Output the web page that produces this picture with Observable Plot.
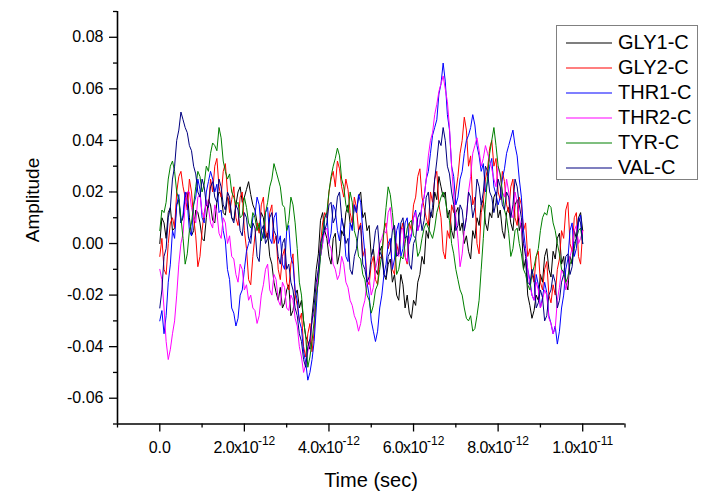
<!DOCTYPE html>
<html><head><meta charset="utf-8">
<script src="https://cdn.jsdelivr.net/npm/d3@7"></script>
<script src="https://cdn.jsdelivr.net/npm/@observablehq/plot@0.6"></script>
<style>
body{margin:0;background:#fff}
#wrap{position:relative;width:716px;height:498px;font-family:"Liberation Sans",Arial,sans-serif}
#legend{position:absolute;left:556px;top:25px;width:142px;height:155px;box-sizing:border-box;border:1px solid #808080;background:#fff;padding-top:4px}
#legend .row{height:25px;line-height:25px;font-size:20px;white-space:nowrap;color:#000;display:flex;align-items:center}
#legend svg{margin-left:9px;margin-right:6px;flex:none}
</style></head>
<body><div id="wrap"><div id="legend"></div></div>
<script>
const seriesNames = ["GLY1-C","GLY2-C","THR1-C","THR2-C","TYR-C","VAL-C"];
const seriesColors = ["#000000","#ff0000","#0000ff","#ff00ff","#008000","#000080"];
const timeStep = 1e-13; // samples at 0, 1e-13, ... 1e-11 s, plus half-step samples

// values at whole steps (101) and at half steps (100)
const GLY1 = [0,.008,.012,.005,.015,.008,.018,.010,.005,.012, .002,.010,.015,.008,.020,.012,.018,.010,.015,.022, .018,.024,.015,.008,.012,.002,-.005,-.015,-.022,-.025, -.018,-.028,-.020,-.025,-.030,-.038,-.028,-.010,.009,.005, -.005,.002,-.008,.005,.012,.008,.015,.018,.010,.005, -.005,-.010,-.003,-.012,-.008,-.015,-.020,-.012,-.025,-.027, -.022,-.015,-.005,.005,.012,.020,.026,.018,.010,.005, .012,.005,0,-.003,.005,.010,.015,.008,.012,.018, .010,.005,.012,.008,.015,.005,-.010,-.020,-.029,-.020, -.012,-.005,-.010,-.003,.002,-.008,-.015,-.005,.005,.010, .005];
const GLY1h = [.010,.002,.014,.006,.017,.010,.020,.003,.013,.008, .001,.017,.009,.016,.019,.011,.016,.009,.020,.016, .021,.019,.013,.005,.010,.004,-.008,-.019,-.017,-.023, -.016,-.026,-.018,-.022,-.036,-.041,-.020,-.004,.012,.002, -.008,.004,-.004,.003,.015,.006,.012,.020,.012,.007, -.002,-.012,-.001,-.014,-.006,-.012,-.022,-.016,-.020,-.029, -.024,-.012,-.008,.002,.010,.017,.022,.020,.013,.002, .014,.008,.003,-.006,.002,.007,.017,.005,.010,.020, .013,.002,.014,.005,.017,.008,-.006,-.024,-.026,-.022, -.015,-.002,-.013,-.006,.004,-.005,-.018,-.008,.002,.012];
const GLY2 = [-.005,-.010,0,.010,.020,.028,.018,.025,.010,-.009, .005,.015,.025,.030,.022,.028,.020,.017,.010,.018, .005,-.014,-.005,.008,.015,.005,.012,0,-.010,-.005, -.015,-.008,-.020,-.030,-.040,-.035,-.042,-.020,0,.012, .020,.028,.032,.022,.025,.012,.018,.005,-.005,-.014, -.008,-.014,-.005,.005,-.002,-.010,0,.005,-.005,.008, .015,.026,.018,.010,.020,.025,.015,-.003,.005,.015, .020,.035,.049,.030,.015,0,.012,.025,.037,.030, .020,.028,.015,.022,.010,.018,.005,-.005,-.012,-.005, -.015,-.010,-.020,-.016,-.010,.005,.013,0,.010,-.005, .005];
const GLY2h = [.002,-.012,.008,.006,.026,.022,.013,.020,.003,-.005, .012,.014,.020,.033,.018,.031,.012,.022,.007,.020, -.002,-.016,.003,.004,.018,.002,.015,.003,-.014,-.002, -.018,-.004,-.024,-.027,-.044,-.031,-.034,-.013,.008,.010, .025,.022,.029,.018,.021,.008,.014,.008,-.002,-.016, -.005,-.016,-.006,.008,.001,-.012,-.004,.008,-.008,.005, .018,.029,.014,.007,.016,.028,.010,-.006,.002,.012, .026,.040,.044,.034,.018,-.004,.016,.029,.040,.033, .017,.024,.012,.025,.007,.015,.008,-.002,-.015,-.003, -.018,-.007,-.023,-.020,-.006,.002,.016,-.003,.012,-.008];
const THR1 = [-.030,-.035,-.015,.005,.015,.008,.020,.005,.015,.025, .010,.020,.028,.020,.012,.005,-.010,-.025,-.032,-.020, -.010,0,.010,.018,.005,.012,.002,.010,0,-.008, .005,-.005,-.018,-.030,-.042,-.053,-.045,-.025,-.005,.010, 0,.015,.005,.010,-.005,.008,.015,.019,.005,-.015, -.030,-.038,-.025,-.012,0,-.010,.005,-.005,.008,0, .010,.005,.015,.025,.035,.045,.058,.070,.050,.030, .015,.025,.035,.042,.050,.038,.028,.020,.030,.022, .015,.025,.035,.041,.038,.025,.005,-.010,-.020,-.012, -.025,-.015,-.028,-.035,-.039,-.025,-.010,.005,-.005,.008, 0];
const THR1h = [-.026,-.028,-.008,.002,.019,.011,.016,.003,.018,.021, .008,.024,.025,.023,.013,.001,-.014,-.027,-.029,-.018, -.003,.003,.011,.015,.002,.014,0,.012,.003,-.010, .007,-.008,-.022,-.033,-.046,-.050,-.038,-.012,0,.012, .004,.013,.001,.006,-.007,.005,.012,.016,-.004,-.020, -.034,-.034,-.020,-.008,.002,-.006,.008,-.002,.010,.003, .013,.008,.018,.028,.042,.048,.062,.063,.044,.026, .018,.028,.040,.045,.046,.034,.031,.024,.033,.019, .018,.029,.038,.044,.034,.018,-.002,-.014,-.022,-.016, -.021,-.019,-.031,-.032,-.034,-.020,-.006,.008,-.002,.011];
const THR2 = [-.010,-.025,-.045,-.035,-.020,0,.015,.020,.010,.018, .012,.017,.008,.015,.004,.010,0,-.005,-.012,-.008, -.018,-.022,-.025,-.031,-.020,-.010,-.018,-.012,-.022,-.015, -.025,-.020,-.029,-.040,-.050,-.042,-.030,-.020,-.005,.005, 0,-.008,-.014,-.005,-.015,-.022,-.028,-.034,-.025,-.015, -.020,-.010,0,.005,.012,.005,-.003,.005,-.005,.002, .010,.005,.015,.025,.040,.050,.059,.065,.055,.030, .010,-.009,.005,.020,.035,.041,.030,.038,.032,.025, .030,.020,.025,.012,.020,.010,0,-.010,-.020,-.015, -.025,-.018,-.029,-.035,-.022,-.010,-.018,-.005,.005,0, .005];
const THR2h = [-.014,-.038,-.041,-.030,-.008,.004,.020,.014,.008,.019, .010,.014,.006,.012,.002,.008,.003,-.006,-.015,-.010, -.016,-.020,-.026,-.028,-.016,-.008,-.020,-.014,-.024,-.017, -.026,-.022,-.032,-.044,-.047,-.038,-.027,-.010,0,.006, -.002,-.010,-.012,-.008,-.017,-.024,-.030,-.031,-.022,-.013, -.017,-.006,.002,.004,.014,.007,-.005,.006,-.007,.004, .012,.008,.018,.034,.043,.054,.062,.060,.045,.018, .002,-.004,.010,.026,.038,.036,.033,.035,.029,.022, .026,.018,.020,.010,.016,.006,-.003,-.016,-.022,-.018, -.022,-.020,-.031,-.033,-.017,-.012,-.014,-.002,.007,.002];
const TYR = [.005,.012,.025,.032,.020,.010,-.008,.005,.015,.028, .020,.030,.035,.038,.045,.032,.025,.020,.015,.010, .018,.008,.012,.005,.001,.012,.022,.031,.025,.015, .005,.018,.008,-.015,-.030,-.048,-.038,-.020,-.005,.010, .020,.030,.037,.025,.015,.020,.005,-.005,-.012,-.020, -.027,-.018,-.010,.005,.022,.012,-.012,-.005,0,.008, .003,-.005,.002,.008,.004,.006,.015,.020,.012,0, -.010,-.018,-.025,-.030,-.034,-.028,-.010,.015,.035,.045, .030,.020,.010,-.005,.005,0,-.010,-.016,-.012,-.005, .005,.012,.015,.008,0,-.010,-.015,-.008,-.002,.005, 0];
const TYRh = [.013,.016,.030,.028,.017,.002,-.004,.008,.022,.026, .023,.028,.039,.036,.041,.028,.027,.018,.016,.011, .014,.006,.010,.008,.004,.016,.025,.028,.022,.014, .009,.015,-.002,-.020,-.036,-.044,-.030,-.015,.004,.012, .026,.033,.034,.022,.012,.016,.002,-.006,-.014,-.022, -.024,-.016,-.004,.014,.019,.003,-.010,-.006,.006,.009, .002,-.003,.006,.006,.002,.012,.018,.017,.009,-.004, -.014,-.020,-.029,-.028,-.033,-.022,.002,.026,.040,.038, .027,.013,.004,-.002,.006,-.004,-.012,-.018,-.009,-.002, .010,.011,.014,.005,-.004,-.011,-.013,-.006,.002,.006];
const VAL = [-.025,-.005,.010,.025,.040,.051,.045,.038,.030,.020, .025,.015,.022,.018,.025,.015,.020,.010,.015,.005, .012,.002,.008,-.005,.005,0,.010,.005,-.005,0, -.010,-.015,-.025,-.035,-.045,-.040,-.030,-.015,0,.005, .015,.008,.018,.010,0,-.010,-.005,.005,-.008,-.015, -.005,.005,-.003,-.012,-.005,.005,-.005,.008,.002,-.008, 0,.010,.005,.018,.010,.025,.040,.045,.030,.020, .005,.015,.005,.020,.010,.025,.015,.030,.020,.012, .025,.015,.020,.010,.025,.015,0,-.015,-.010,-.025, -.018,-.030,-.020,-.012,-.025,-.015,-.005,-.012,0,.010, 0];
const VALh = [-.018,-.002,.014,.030,.044,.048,.043,.036,.027,.018, .022,.014,.024,.016,.022,.013,.018,.008,.013,.003, .010,0,.006,-.007,.007,.002,.012,.003,-.008,.002, -.008,-.018,-.028,-.038,-.048,-.037,-.024,-.010,.003,.008, .016,.010,.020,.006,.002,-.012,-.002,.007,-.010,-.013, -.002,.007,-.005,-.013,-.003,.007,-.004,.010,.003,-.010, .002,.012,.009,.020,.014,.032,.038,.040,.027,.015, .007,.013,.010,.018,.014,.022,.020,.028,.018,.016, .022,.013,.018,.015,.022,.010,-.005,-.016,-.014,-.023, -.021,-.028,-.018,-.015,-.022,-.012,-.004,-.009,.002,.008];

const xDomain = [-1e-12, 1.1e-11];
const yDomain = [-0.07, 0.09];
const xTicks = [0, 2e-12, 4e-12, 6e-12, 8e-12, 1e-11];
const xTickLabels = ["0.0", "2.0x10^-12", "4.0x10^-12", "6.0x10^-12", "8.0x10^-12", "1.0x10^-11"];
const xMinor = [-1e-12, 1e-12, 3e-12, 5e-12, 7e-12, 9e-12, 1.1e-11];
const yTicks = [-0.06, -0.04, -0.02, 0, 0.02, 0.04, 0.06, 0.08];
const yMinor = [-0.07, -0.05, -0.03, -0.01, 0.01, 0.03, 0.05, 0.07, 0.09];
const xTitle = "Time (sec)";
const yTitle = "Amplitude";

const whole = [GLY1, GLY2, THR1, THR2, TYR, VAL];
const half = [GLY1h, GLY2h, THR1h, THR2h, TYRh, VALh];
const data = [];
whole.forEach((vals, k) => vals.forEach((v, i) => {
  data.push({series: seriesNames[k], t: i * timeStep, v});
  if (i < half[k].length) data.push({series: seriesNames[k], t: (i + 0.5) * timeStep, v: half[k][i]});
}));

const chart = Plot.plot({
  width: 716, height: 498,
  marginLeft: 117, marginRight: 91.5, marginTop: 11, marginBottom: 74.5,
  style: {fontFamily: '"Liberation Sans", Arial, sans-serif', fontSize: "16px", background: "#fff", color: "#000", overflow: "visible"},
  x: {domain: xDomain},
  y: {domain: yDomain},
  color: {domain: seriesNames, range: seriesColors},
  marks: [
    Plot.line(data, {x: "t", y: "v", z: "series", stroke: "series", strokeWidth: 1}),
    Plot.axisX({ticks: xMinor, tickSize: 4, tickFormat: () => "", label: null, strokeWidth: 1.3}),
    Plot.axisX({ticks: xTicks, tickSize: 8, tickPadding: 10, tickFormat: d => xTickLabels[xTicks.indexOf(d)], label: null, strokeWidth: 1.3}),
    Plot.axisY({ticks: yMinor, tickSize: 4, tickFormat: () => "", label: null, strokeWidth: 1.3}),
    Plot.axisY({ticks: yTicks, tickSize: 8, tickPadding: 6, tickFormat: d => d.toFixed(2), label: null, strokeWidth: 1.3}),
    Plot.ruleX([xDomain[0]], {strokeWidth: 1.6}),
    Plot.ruleY([yDomain[0]], {strokeWidth: 1.6})
  ]
});
document.getElementById("wrap").prepend(chart);

// superscript exponents in x tick labels
d3.select(chart).selectAll('g[aria-label="x-axis tick label"] text').each(function() {
  const s = this.textContent;
  if (!s.includes("^")) return;
  const [base, ex] = s.split("^");
  const t = d3.select(this);
  t.text(null).style("letter-spacing", "-0.6px");
  t.append("tspan").text(base);
  t.append("tspan").attr("dy", "-8").attr("font-size", "12px").style("letter-spacing", "0").text(ex);
});

// axis titles
const svg = d3.select(chart);
svg.append("text").attr("x", 371).attr("y", 487).attr("text-anchor", "middle")
  .attr("font-size", "20px").attr("fill", "#000").text(xTitle);
svg.append("text").attr("transform", "translate(39,200) rotate(-90)").attr("text-anchor", "middle")
  .attr("font-size", "19px").attr("fill", "#000").text(yTitle);

// legend
const lg = d3.select("#legend");
seriesNames.forEach((n, k) => {
  const r = lg.append("div").attr("class", "row");
  const sw = r.append("svg").attr("width", 46).attr("height", 4);
  sw.append("line").attr("x1", 0).attr("x2", 46).attr("y1", 2).attr("y2", 2)
    .attr("stroke", seriesColors[k]).attr("stroke-width", 1.2);
  r.append("span").text(n);
});
</script>
</body></html>
